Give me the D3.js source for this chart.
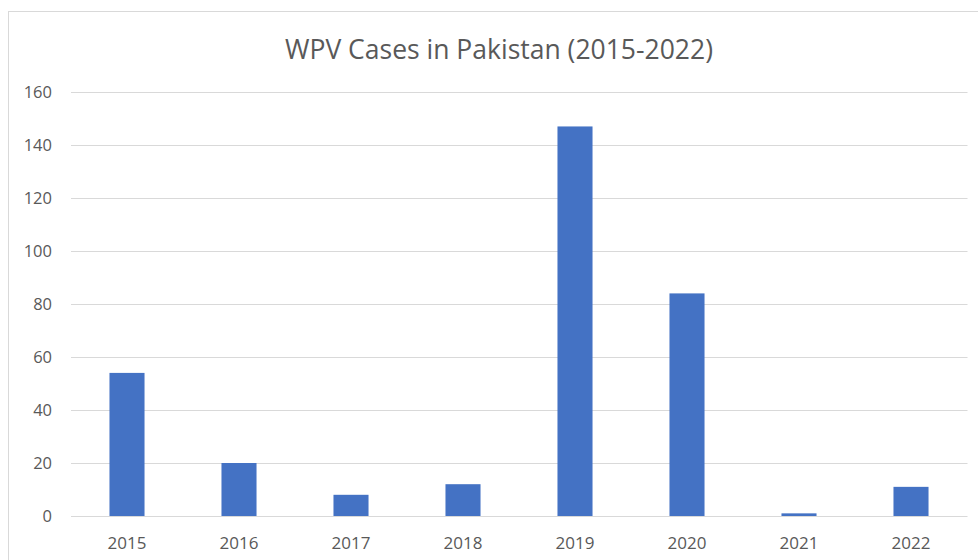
<!DOCTYPE html>
<html>
<head>
<meta charset="utf-8">
<script src="https://cdn.jsdelivr.net/npm/d3@7"></script>
<style>
  body { margin: 0; background: #fff; }
  svg { display: block; font-family: "Open Sans", "Liberation Sans", sans-serif; }
</style>
</head>
<body>
<svg id="chart" width="978" height="560"></svg>
<script>
// WPV cases per year
var years = ["2015", "2016", "2017", "2018", "2019", "2020", "2021", "2022"];
var cases = [54, 20, 8, 12, 147, 84, 1, 11];
var yTicks = [0, 20, 40, 60, 80, 100, 120, 140, 160];

var svg = d3.select("#chart");
var margin = { left: 71, right: 11, top: 92, bottom: 44 };
var width = 978, height = 560;

// chart frame (cropped on right and bottom like the original)
svg.append("rect")
    .attr("x", 8.5).attr("y", 11.5)
    .attr("width", 1000).attr("height", 600)
    .attr("fill", "#fff")
    .attr("stroke", "#d9d9d9");

var x = d3.scaleBand()
    .domain(years)
    .range([margin.left, width - margin.right])
    .paddingInner(0.687)
    .paddingOuter(0.3435);

var y = d3.scaleLinear()
    .domain([0, 160])
    .range([height - margin.bottom, margin.top]);

// gridlines
svg.append("g").selectAll("line")
    .data(yTicks)
    .enter().append("line")
    .attr("x1", margin.left).attr("x2", width - margin.right + 0.5)
    .attr("y1", function(d) { return Math.round(y(d)) + 0.5; })
    .attr("y2", function(d) { return Math.round(y(d)) + 0.5; })
    .attr("stroke", "#d9d9d9")
    .attr("stroke-width", 1);

// bars
svg.append("g").selectAll("rect")
    .data(years)
    .enter().append("rect")
    .attr("x", function(d) { return x(d); })
    .attr("width", x.bandwidth())
    .attr("y", function(d, i) { return y(cases[i]); })
    .attr("height", function(d, i) { return y(0) - y(cases[i]); })
    .attr("fill", "#4472c4");

// y axis labels
var yAxis = d3.axisLeft(y).tickValues(yTicks).tickSize(0).tickPadding(19);
var gy = svg.append("g")
    .attr("transform", "translate(" + margin.left + ",0)")
    .call(yAxis);
gy.select(".domain").remove();
gy.selectAll("text")
    .attr("font-size", 16.5)
    .attr("font-family", "'Open Sans', sans-serif")
    .attr("fill", "#595959");

// x axis labels
var xAxis = d3.axisBottom(x).tickSize(0).tickPadding(21);
var gx = svg.append("g")
    .attr("transform", "translate(0," + y(0) + ")")
    .call(xAxis);
gx.select(".domain").remove();
gx.selectAll("text")
    .attr("font-size", 17)
    .attr("font-family", "'Open Sans', sans-serif")
    .attr("fill", "#595959");

// title
svg.append("text")
    .attr("x", 499)
    .attr("y", 59)
    .attr("text-anchor", "middle")
    .attr("font-size", 26.5)
    .attr("fill", "#595959")
    .text("WPV Cases in Pakistan (2015-2022)");
</script>
</body>
</html>
